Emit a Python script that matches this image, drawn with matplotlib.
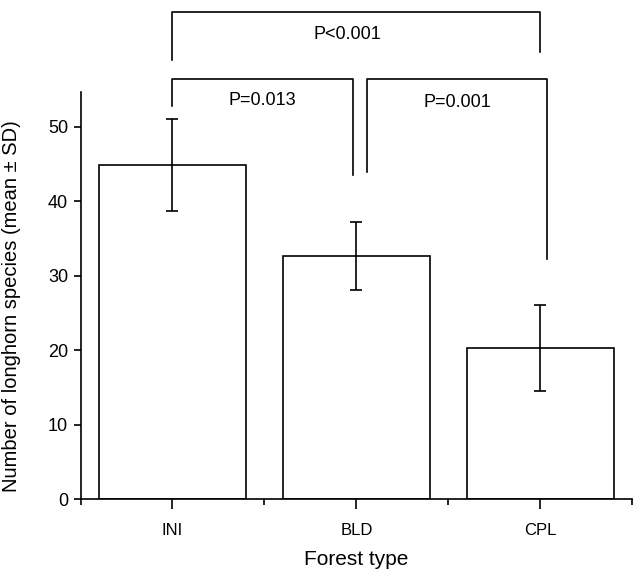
import matplotlib
matplotlib.use("Agg")
import matplotlib.pyplot as plt

forest_types = ["INI", "BLD", "CPL"]
mean_species = [44.9, 32.7, 20.3]
sd_species = [6.2, 4.6, 5.75]

# comparisons: (left x, right x, bar height, left leg end, right leg end, label)
comparisons = [
    (1.0, 3.0, 65.5, 59.0, 60.1, "P<0.001"),
    (1.0, 1.98, 56.4, 52.8, 43.6, "P=0.013"),
    (2.06, 3.04, 56.4, 43.9, 32.3, "P=0.001"),
]
label_pos = [(1.95, 62.4), (1.49, 53.6), (2.55, 53.3)]

plt.rcParams['font.family'] = ['Liberation Sans', 'DejaVu Sans']

fig = plt.figure(figsize=(6.33, 5.70), dpi=100)
ax = fig.add_axes([0.1273, 0.124, 0.8712, 0.7146])

x = list(range(1, len(forest_types) + 1))
ax.bar(x, mean_species, width=0.8, color="white", edgecolor="black", linewidth=1.2)
ax.errorbar(x, mean_species, yerr=sd_species, fmt="none", ecolor="black",
            elinewidth=1.2, capsize=4, capthick=1.2)

ax.set_xlim(0.5, 3.5)
ax.set_ylim(0, 54.7)
ax.set_yticks([0, 10, 20, 30, 40, 50])
ax.set_xticks(x)
ax.set_xticklabels(forest_types)
ax.set_xticks([0.5, 1.5, 2.5, 3.5], minor=True)
ax.tick_params(axis="x", which="major", length=7, width=1.2, labelsize=12, pad=10)
ax.tick_params(axis="x", which="minor", length=4, width=1.2)
ax.tick_params(axis="y", length=5, width=1.2, labelsize=13, pad=4)

for s in ["top", "right"]:
    ax.spines[s].set_visible(False)
for s in ["left", "bottom"]:
    ax.spines[s].set_linewidth(1.2)

ax.set_xlabel("Forest type", fontsize=15, labelpad=9)
ax.set_ylabel("Number of longhorn species (mean ± SD)", fontsize=14.5)
ax.yaxis.set_label_coords(-0.108, 0.475)

for (x0, x1, h, l0, l1, txt), (tx, ty) in zip(comparisons, label_pos):
    ax.plot([x0, x0, x1, x1], [l0, h, h, l1], color="black", linewidth=1.2,
            clip_on=False)
    ax.text(tx, ty, txt, ha="center", va="center", fontsize=13)

fig.savefig("out.png", dpi=100)
